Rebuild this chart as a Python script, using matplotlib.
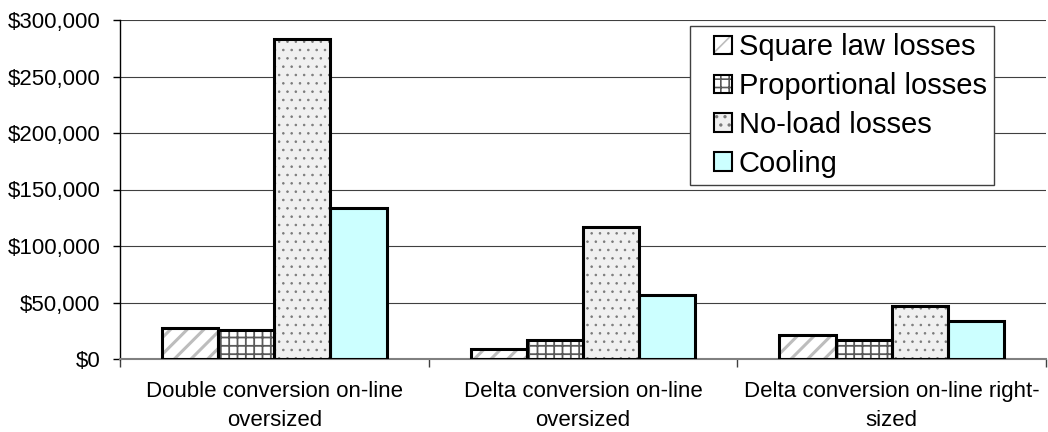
import numpy as np
import matplotlib
matplotlib.use('Agg')
import matplotlib.pyplot as plt
from matplotlib.ticker import FuncFormatter, FixedLocator
from matplotlib.legend_handler import HandlerBase
from matplotlib.patches import Rectangle

plt.rcParams['font.family'] = ['Liberation Sans', 'DejaVu Sans']
plt.rcParams['hatch.linewidth'] = 1.2

# dados
categories = ['Double conversion on-line\noversized',
              'Delta conversion on-line\noversized',
              'Delta conversion on-line right-\nsized']
series_names = ['Square law losses', 'Proportional losses', 'No-load losses', 'Cooling']
square_law = [27000, 8500, 21500]
proportional = [25500, 17000, 17000]
no_load = [283000, 117000, 46500]
cooling = [134000, 56500, 34000]
y_ticks = [0, 50000, 100000, 150000, 200000, 250000, 300000]

values = [square_law, proportional, no_load, cooling]
faces = ['white', 'white', '#f0f0f0', '#ccffff']
hatches = ['//', '++', '..', '']
hatch_colors = ['#bdbdbd', '#5a5a5a', '#7a7a7a', 'none']
hatch_lw = [2.2, 1.3, 0.6, 1.0]


class SquareHandler(HandlerBase):
    # quadradinho encostado à direita da área do handle
    def create_artists(self, legend, orig_handle, xdescent, ydescent,
                       width, height, fontsize, trans):
        i = orig_handle
        size = height
        x0 = width - size - xdescent
        r1 = Rectangle((x0, -ydescent), size, size, facecolor=faces[i],
                       hatch=hatches[i], edgecolor=hatch_colors[i], linewidth=0,
                       transform=trans)
        r2 = Rectangle((x0, -ydescent), size, size, fill=False,
                       edgecolor='black', linewidth=1.5, transform=trans)
        return [r1, r2]


fig = plt.figure(figsize=(10.48, 4.32), dpi=100)
ax = fig.add_axes([120 / 1048, 1 - 359 / 432, 926 / 1048, 339 / 432])

n = len(categories)
xc = np.arange(n)
w = 1 / 5.5

for i, vals in enumerate(values):
    xs = xc + (i - 1.5) * w
    # preenchimento + hachura
    b1 = ax.bar(xs, vals, w, color=faces[i], hatch=hatches[i],
                edgecolor=hatch_colors[i], linewidth=0, zorder=2)
    for p in b1:
        if hasattr(p, 'set_hatch_linewidth'):
            p.set_hatch_linewidth(hatch_lw[i])
    # contorno preto
    ax.bar(xs, vals, w, fill=False, edgecolor='black', linewidth=2.2, zorder=3)

ax.set_xlim(-0.5, n - 0.5)
ax.set_ylim(0, 300000)
ax.set_yticks(y_ticks)
ax.yaxis.set_major_formatter(FuncFormatter(lambda v, p: '${:,.0f}'.format(v)))
ax.yaxis.grid(True, color='#404040', linewidth=0.8, zorder=0)
ax.set_axisbelow(True)

ax.set_xticks(xc)
ax.set_xticklabels(categories, linespacing=1.5)
ax.xaxis.set_minor_locator(FixedLocator(np.arange(n + 1) - 0.5))
ax.tick_params(axis='x', which='major', length=0, pad=16, labelsize=16)
ax.tick_params(axis='x', which='minor', length=6, width=1, color='#404040', direction='out')
ax.tick_params(axis='y', length=5, width=1, pad=9, labelsize=16, direction='out')

for s in ['top', 'right']:
    ax.spines[s].set_visible(False)
ax.spines['left'].set_color('black')
ax.spines['left'].set_linewidth(1)
ax.spines['bottom'].set_color('#808080')
ax.spines['bottom'].set_linewidth(1.5)

leg = ax.legend(list(range(len(series_names))), series_names,
                handler_map={int: SquareHandler()},
                loc='upper left', bbox_to_anchor=(0.6156, 0.982), fontsize=21,
                frameon=True, fancybox=False, framealpha=1, edgecolor='#404040',
                handlelength=1.2, handleheight=0.6, handletextpad=0.22,
                labelspacing=0.37, borderpad=0.25, borderaxespad=0)
leg.get_frame().set_linewidth(1)

plt.savefig('out.png', dpi=100)
